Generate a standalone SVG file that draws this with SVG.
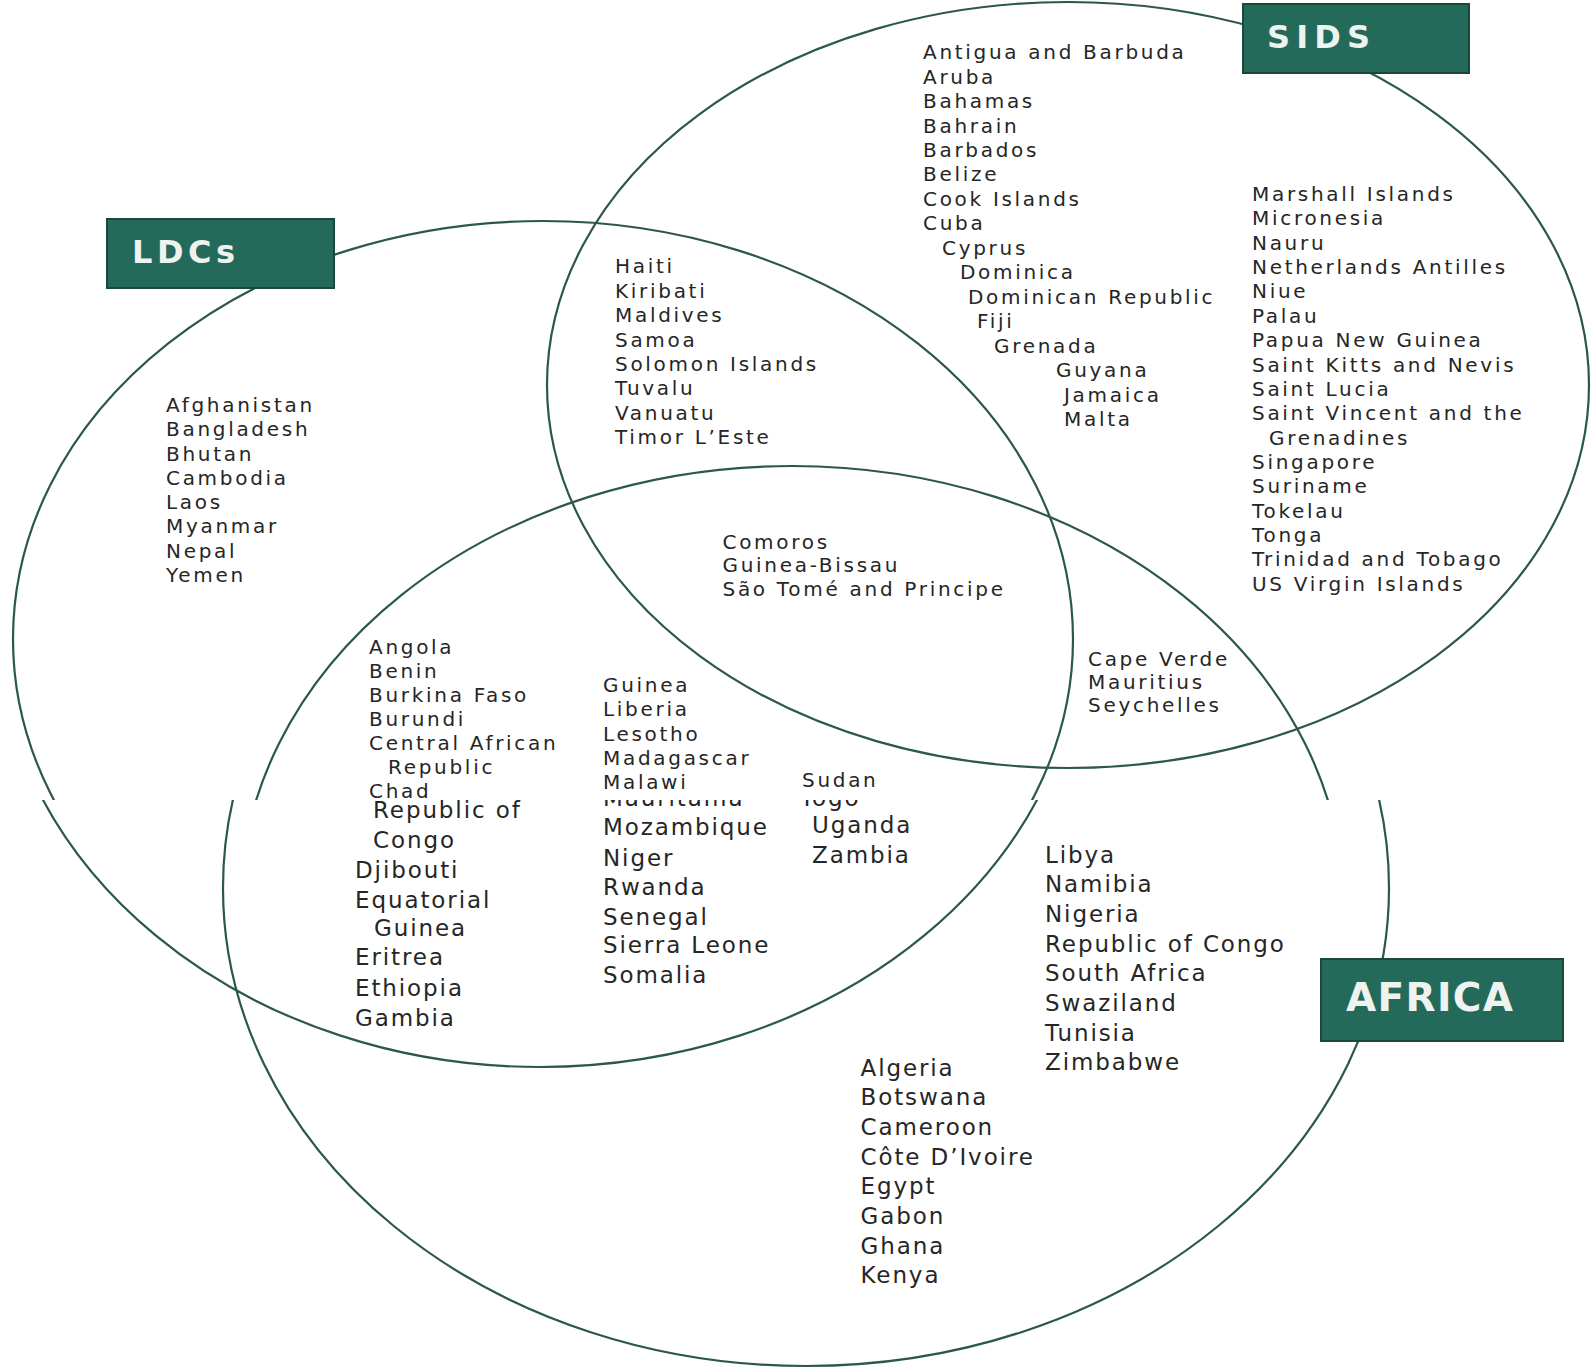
<svg xmlns="http://www.w3.org/2000/svg" width="1591" height="1368" viewBox="0 0 1591 1368">
<style>
.ring{fill:none;stroke:#2c574d;stroke-width:2.2}
.box{fill:#246a5a;stroke:#1b473d;stroke-width:2}
.lbl{font-family:"DejaVu Sans",Verdana,sans-serif;font-weight:bold;fill:#eef3f0}
.u{font-family:"DejaVu Sans",Verdana,sans-serif;font-size:20px;letter-spacing:2.7px;fill:#262626}
.l{font-family:"DejaVu Sans",Verdana,sans-serif;font-size:23px;letter-spacing:1.9px;fill:#262626}
</style>
<defs>
<clipPath id="top"><rect x="0" y="0" width="1591" height="800"/></clipPath>
<clipPath id="bot"><rect x="0" y="800" width="1591" height="568"/></clipPath>
</defs>
<rect width="1591" height="1368" fill="#ffffff"/>

<g id="ldcs">
<ellipse class="ring" cx="543" cy="639" rx="530" ry="418" clip-path="url(#top)"/>
<ellipse class="ring" cx="540" cy="617" rx="544" ry="450" clip-path="url(#bot)"/>
</g>
<g id="sids">
<ellipse class="ring" cx="1068" cy="385" rx="521" ry="383"/>
</g>
<g id="africa">
<ellipse class="ring" cx="792" cy="906" rx="552" ry="440" clip-path="url(#top)"/>
<ellipse class="ring" cx="806" cy="888" rx="583" ry="478" clip-path="url(#bot)"/>
</g>

<g id="label-ldcs">
<rect class="box" x="107" y="219" width="227" height="69"/>
<text class="lbl" x="132" y="263" font-size="32" textLength="103" lengthAdjust="spacing">LDCs</text>
</g>
<g id="label-sids">
<rect class="box" x="1243" y="4" width="226" height="69"/>
<text class="lbl" x="1267" y="48" font-size="32" textLength="103" lengthAdjust="spacing">SIDS</text>
</g>
<g id="label-africa">
<rect class="box" x="1321" y="959" width="242" height="82"/>
<text class="lbl" x="1346" y="1011" font-size="39" textLength="167" lengthAdjust="spacing">AFRICA</text>
</g>

<g id="sids-only-left" class="u">
<text x="923" y="59">Antigua and Barbuda</text>
<text x="923" y="83.5">Aruba</text>
<text x="923" y="108">Bahamas</text>
<text x="923" y="132.5">Bahrain</text>
<text x="923" y="157">Barbados</text>
<text x="923" y="181">Belize</text>
<text x="923" y="205.5">Cook Islands</text>
<text x="923" y="230">Cuba</text>
<text x="942" y="254.5">Cyprus</text>
<text x="960" y="279">Dominica</text>
<text x="968" y="303.5">Dominican Republic</text>
<text x="977" y="328">Fiji</text>
<text x="994" y="352.5">Grenada</text>
<text x="1056" y="377">Guyana</text>
<text x="1064" y="401.5">Jamaica</text>
<text x="1064" y="426">Malta</text>
</g>

<g id="sids-only-right" class="u">
<text x="1252" y="201">Marshall Islands</text>
<text x="1252" y="225.4">Micronesia</text>
<text x="1252" y="249.7">Nauru</text>
<text x="1252" y="274.1">Netherlands Antilles</text>
<text x="1252" y="298.4">Niue</text>
<text x="1252" y="322.8">Palau</text>
<text x="1252" y="347.1">Papua New Guinea</text>
<text x="1252" y="371.5">Saint Kitts and Nevis</text>
<text x="1252" y="395.8">Saint Lucia</text>
<text x="1252" y="420.2">Saint Vincent and the</text>
<text x="1269" y="444.5">Grenadines</text>
<text x="1252" y="468.9">Singapore</text>
<text x="1252" y="493.2">Suriname</text>
<text x="1252" y="517.6">Tokelau</text>
<text x="1252" y="541.9">Tonga</text>
<text x="1252" y="566.3">Trinidad and Tobago</text>
<text x="1252" y="590.6">US Virgin Islands</text>
</g>

<g id="ldcs-sids" class="u">
<text x="615" y="273">Haiti</text>
<text x="615" y="297.5">Kiribati</text>
<text x="615" y="322">Maldives</text>
<text x="615" y="346.5">Samoa</text>
<text x="615" y="371">Solomon Islands</text>
<text x="615" y="395">Tuvalu</text>
<text x="615" y="419.5">Vanuatu</text>
<text x="615" y="444">Timor L’Este</text>
</g>

<g id="ldcs-only" class="u">
<text x="166" y="412">Afghanistan</text>
<text x="166" y="436">Bangladesh</text>
<text x="166" y="460.5">Bhutan</text>
<text x="166" y="484.8">Cambodia</text>
<text x="166" y="509">Laos</text>
<text x="166" y="533.3">Myanmar</text>
<text x="166" y="557.5">Nepal</text>
<text x="166" y="581.8">Yemen</text>
</g>

<g id="all-three" class="u">
<text x="722.5" y="549">Comoros</text>
<text x="722.5" y="572.3">Guinea-Bissau</text>
<text x="722.5" y="595.6">São Tomé and Principe</text>
</g>

<g id="sids-africa" class="u">
<text x="1088" y="665.6">Cape Verde</text>
<text x="1088" y="689">Mauritius</text>
<text x="1088" y="712.2">Seychelles</text>
</g>

<g id="ldcs-africa-upper" class="u" clip-path="url(#top)">
<text x="369" y="654.4">Angola</text>
<text x="369" y="678.3">Benin</text>
<text x="369" y="702">Burkina Faso</text>
<text x="369" y="726">Burundi</text>
<text x="369" y="750">Central African</text>
<text x="388" y="773.7">Republic</text>
<text x="369" y="797.5">Chad</text>
<text x="603" y="692">Guinea</text>
<text x="603" y="716.4">Liberia</text>
<text x="603" y="740.7">Lesotho</text>
<text x="603" y="765">Madagascar</text>
<text x="603" y="789.4">Malawi</text>
<text x="802" y="787">Sudan</text>
</g>

<g id="ldcs-africa-lower" class="l" clip-path="url(#bot)">
<text x="373" y="818">Republic of</text>
<text x="373" y="848">Congo</text>
<text x="355" y="878">Djibouti</text>
<text x="355" y="908">Equatorial</text>
<text x="374" y="936">Guinea</text>
<text x="355" y="965">Eritrea</text>
<text x="355" y="995.5">Ethiopia</text>
<text x="355" y="1026">Gambia</text>
<text x="603" y="806">Mauritania</text>
<text x="603" y="835">Mozambique</text>
<text x="603" y="865.5">Niger</text>
<text x="603" y="895">Rwanda</text>
<text x="603" y="924.5">Senegal</text>
<text x="603" y="953">Sierra Leone</text>
<text x="603" y="983">Somalia</text>
<text x="800" y="806">Togo</text>
<text x="812" y="833">Uganda</text>
<text x="812" y="862.5">Zambia</text>
</g>

<g id="africa-only" class="l">
<text x="1045" y="862.5">Libya</text>
<text x="1045" y="892.2">Namibia</text>
<text x="1045" y="921.9">Nigeria</text>
<text x="1045" y="951.6">Republic of Congo</text>
<text x="1045" y="981.3">South Africa</text>
<text x="1045" y="1011">Swaziland</text>
<text x="1045" y="1040.7">Tunisia</text>
<text x="1045" y="1070.4">Zimbabwe</text>
<text x="860.5" y="1075.5">Algeria</text>
<text x="860.5" y="1105.2">Botswana</text>
<text x="860.5" y="1134.9">Cameroon</text>
<text x="860.5" y="1164.6">Côte D’Ivoire</text>
<text x="860.5" y="1194.3">Egypt</text>
<text x="860.5" y="1224">Gabon</text>
<text x="860.5" y="1253.7">Ghana</text>
<text x="860.5" y="1283.4">Kenya</text>
</g>
</svg>
